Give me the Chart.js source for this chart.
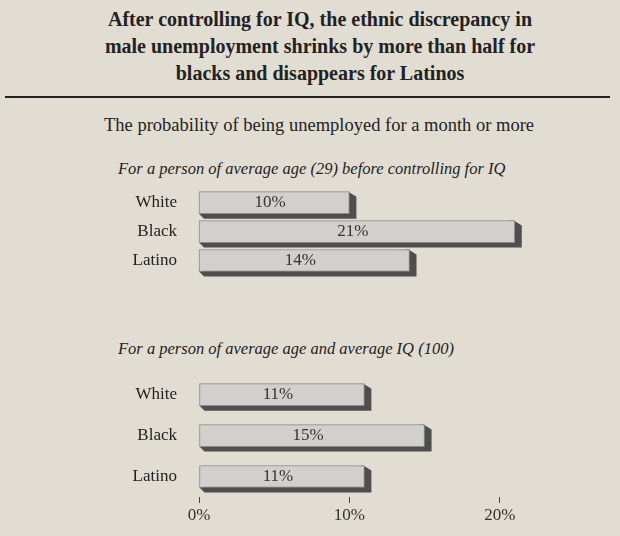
<!DOCTYPE html>
<html><head><meta charset="utf-8">
<script src="https://cdn.jsdelivr.net/npm/chart.js@4"></script>
<style>
body{margin:0;width:620px;height:536px;background:#e2ddd2;font-family:"Liberation Serif",serif;position:relative;overflow:hidden;color:#222}
.t{position:absolute;left:0;width:620px;text-align:center}
#title{top:6px;font-size:20px;font-weight:bold;line-height:27px;left:10px}
#rule{position:absolute;left:5px;width:605px;top:96px;border-top:2px solid #222}
#sub{position:absolute;left:104px;top:115px;font-size:18.5px}
.sec{position:absolute;font-style:italic;font-size:16.5px}
canvas{position:absolute;left:0}
</style></head><body>
<div class="t" id="title">After controlling for IQ, the ethnic discrepancy in<br>male unemployment shrinks by more than half for<br>blacks and disappears for Latinos</div>
<div id="rule"></div>
<div id="sub">The probability of being unemployed for a month or more</div>
<div class="sec" style="left:118px;top:159px">For a person of average age (29) before controlling for IQ</div>
<div class="sec" style="left:118px;top:339px">For a person of average age and average IQ (100)</div>
<canvas id="c1" width="620" height="144" style="top:170px;width:620px;height:144px"></canvas>
<canvas id="c2" width="620" height="180" style="top:356px;width:620px;height:180px"></canvas>
<script>
const categories=['White','Black','Latino'];
const beforeIQ=[10,21,14];
const afterIQ=[11,15,11];
const tickValues=[0,10,20];

const bar3d={id:'bar3d',
 beforeDatasetsDraw(ch){const ctx=ch.ctx;ch.getDatasetMeta(0).data.forEach(b=>{
  const top=b.y-b.height/2,bot=b.y+b.height/2;ctx.save();ctx.fillStyle='#4e4e4e';ctx.beginPath();
  ctx.moveTo(b.x-1,top);ctx.lineTo(b.x+7,top+5);ctx.lineTo(b.x+7,bot+5);ctx.lineTo(b.base+5,bot+5);ctx.lineTo(b.base,bot);ctx.closePath();ctx.fill();ctx.restore();});},
 afterDatasetsDraw(ch){const ctx=ch.ctx;const ds=ch.data.datasets[0];ch.getDatasetMeta(0).data.forEach((b,i)=>{
  ctx.save();ctx.fillStyle='#333';ctx.font='17px "Liberation Serif"';ctx.textAlign='center';ctx.textBaseline='middle';
  ctx.fillText(ds.data[i]+'%',(b.x+b.base)/2-4,b.y);ctx.restore();});}};

function mk(id,data,showX){
 return new Chart(document.getElementById(id),{type:'bar',plugins:[bar3d],
  data:{labels:categories,datasets:[{data:data,backgroundColor:'#d2d0cc',borderColor:'#8a8a8a',borderWidth:1,barThickness:22,borderSkipped:false}]},
  options:{responsive:false,devicePixelRatio:1,animation:false,indexAxis:'y',layout:{padding:0},
   plugins:{legend:{display:false},tooltip:{enabled:false}},
   scales:{
    x:{display:showX,min:-0.4,max:28,grid:{drawOnChartArea:false,drawTicks:true,tickLength:6,color:'#444'},border:{display:false},
     afterBuildTicks(s){s.ticks=tickValues.map(v=>({value:v}));},
     afterFit(s){s.height=39;},
     ticks:{color:'#333',font:{family:'Liberation Serif',size:17},callback:v=>v+'%',padding:2}},
    y:{grid:{display:false},border:{display:false},afterFit(s){s.width=193;},
     ticks:{color:'#222',font:{family:'Liberation Serif',size:17},padding:8}}}}});
}
mk('c1',beforeIQ,false);
mk('c2',afterIQ,true);
</script></body></html>
